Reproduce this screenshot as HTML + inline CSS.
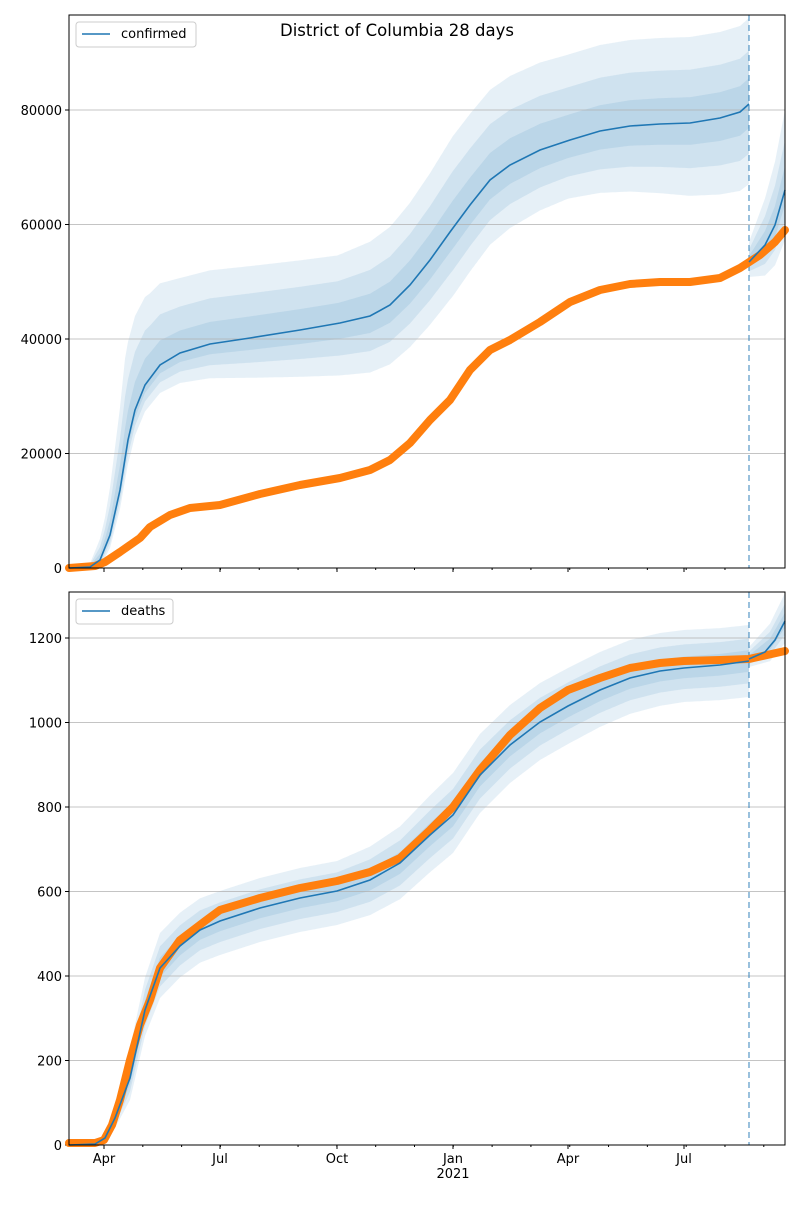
<!DOCTYPE html>
<html><head><meta charset="utf-8"><style>
body{margin:0;background:#fff}
svg text{font-family:"DejaVu Sans","Liberation Sans",sans-serif;font-size:13px;fill:#000}
</style></head><body>
<svg id="s" width="800" height="1200" xmlns="http://www.w3.org/2000/svg">
<rect width="800" height="1200" fill="#fff"/>
<g id="g"></g>
</svg>
<script>
const NS="http://www.w3.org/2000/svg";
const g=document.getElementById('g');
function el(t,a,txt){const e=document.createElementNS(NS,t);for(const k in a)e.setAttribute(k,a[k]);if(txt!==undefined)e.textContent=txt;g.appendChild(e);return e;}
function interp(pts,x){if(x<=pts[0][0])return pts[0][1];for(let i=1;i<pts.length;i++){if(x<=pts[i][0]){const a=pts[i-1],b=pts[i];return a[1]+(b[1]-a[1])*(x-a[0])/(b[0]-a[0]);}}return pts[pts.length-1][1];}
function pl(pts){return pts.map(p=>p[0].toFixed(1)+','+p[1].toFixed(1)).join(' ');}
function band(x0,x1,med,up,lo,clipTop){
 for(const f of [1,0.62,0.3]){
  const a=[],b=[];
  for(let x=x0;x<=x1;x+=1){const m=interp(med,x);a.push([x,Math.max(clipTop,m-interp(up,x)*f)]);b.push([x,m+interp(lo,x)*f]);}
  el('polygon',{points:pl(a.concat(b.reverse())),fill:'#1f77b4','fill-opacity':0.11});
 }
}
function axes(top,bot,yt,labels){
 yt.forEach(([y,l])=>{el('line',{x1:69,x2:785,y1:y,y2:y,stroke:'#b0b0b0','stroke-width':0.8});el('line',{x1:65,x2:69,y1:y,y2:y,stroke:'#000'});el('text',{x:62,y:y+5,'text-anchor':'end'},l);});
 for(let k=-1;k<=17;k++){const x=104+k*30.44*1.275;if(x>=69&&x<=785)el('line',{x1:x,x2:x,y1:bot,y2:bot+2,stroke:'#000'});}
 [[104,'Apr'],[220,'Jul'],[337,'Oct'],[453,'Jan'],[568,'Apr'],[684,'Jul']].forEach(([x,l])=>{el('line',{x1:x,x2:x,y1:bot,y2:bot+4,stroke:'#000'});if(labels){el('text',{x:x,y:bot+18,'text-anchor':'middle'},l);}});
 if(labels)el('text',{x:453,y:bot+33,'text-anchor':'middle'},'2021');
 el('line',{x1:749,x2:749,y1:top,y2:bot,stroke:'#1f77b4','stroke-opacity':0.6,'stroke-width':1.5,'stroke-dasharray':'6,4'});
}
function frame(top,bot){el('rect',{x:69,y:top,width:716,height:bot-top,fill:'none',stroke:'#000','stroke-width':1});}
// ---- TOP ----
const medT=[[69,568],[90,567],[100,560],[110,535],[120,490],[128,440],[135,410],[145,385],[160,365],[180,353],[210,344],[250,338],[300,330],[340,323],[370,316],[390,305],[410,285],[430,260],[450,232],[470,205],[490,180],[510,165],[540,150],[570,140],[600,131],[630,126],[660,124],[690,123],[720,118],[740,112],[749,104]];
const upT=[[88,0],[105,30],[125,100],[150,85],[180,75],[337,68],[400,80],[453,92],[568,86],[749,86]];
const loT=[[88,0],[105,10],[130,25],[180,30],[337,52],[453,68],[568,58],[749,80]];
band(69,749,medT,upT,loT,15);
band(749,785,[[749,262],[765,245],[775,225],[785,190]],[[749,20],[785,80]],[[749,15],[785,50]],15);
axes(15,568,[[568,'0'],[453.5,'20000'],[339,'40000'],[224.5,'60000'],[110,'80000']],false);
const orT=[[69,568],[95,566],[105,562],[120,552],[140,538],[150,527],[170,515],[190,508],[220,505],[260,494],[300,485],[340,478],[370,470],[390,460],[410,443],[430,420],[450,400],[470,370],[490,350],[510,340],[540,322],[570,302],[600,290],[630,284],[660,282],[690,282],[720,278],[740,268],[760,255],[775,242],[785,230]];
el('polyline',{points:pl(orT),fill:'none',stroke:'#ff7f0e','stroke-width':8,'stroke-linecap':'round','stroke-linejoin':'round'});
el('polyline',{points:pl(medT),fill:'none',stroke:'#1f77b4','stroke-width':1.6});
el('polyline',{points:pl([[749,262],[765,245],[775,225],[785,190]]),fill:'none',stroke:'#1f77b4','stroke-width':1.6});
frame(15,568);
el('rect',{x:76,y:22,width:120,height:25,rx:3,fill:'#fff','fill-opacity':0.8,stroke:'#ccc'});
el('line',{x1:82,x2:110,y1:34,y2:34,stroke:'#1f77b4','stroke-width':1.6});
el('text',{x:121,y:38},'confirmed');
el('text',{x:397,y:36,'text-anchor':'middle','style':'font-size:16.5px'},'District of Columbia 28 days');
// ---- BOTTOM ----
const medB=[[69,1145],[95,1144],[105,1138],[115,1118],[130,1078],[145,1010],[160,968],[180,946],[200,930],[220,921],[260,908],[300,898],[337,891],[370,880],[400,863],[430,835],[453,815],[480,775],[510,745],[540,722],[568,706],[600,690],[630,678],[660,671],[684,668],[720,665],[749,661]];
const upB=[[95,0],[110,8],[130,30],[160,35],[220,30],[337,30],[453,42],[568,38],[684,38],[749,36]];
const loB=[[95,0],[110,6],[130,22],[160,30],[220,34],[337,34],[453,38],[568,38],[684,34],[749,36]];
band(69,749,medB,upB,loB,592);
band(749,785,[[749,659],[770,645],[785,621]],[[749,12],[785,28]],[[749,8],[785,22]],592);
axes(592,1145,[[1145,'0'],[1060.5,'200'],[976,'400'],[891.5,'600'],[807,'800'],[722.5,'1000'],[638,'1200']],true);
const orB=[[69,1143],[95,1143],[104,1140],[112,1125],[120,1100],[130,1060],[140,1025],[150,1000],[160,968],[180,940],[205,921],[220,910],[260,898],[300,888],[337,881],[370,872],[400,858],[430,830],[453,807],[480,770],[510,735],[540,708],[568,690],[600,678],[630,668],[660,663],[684,661],[720,660],[749,659],[785,651]];
el('polyline',{points:pl(orB),fill:'none',stroke:'#ff7f0e','stroke-width':8,'stroke-linecap':'round','stroke-linejoin':'round'});
el('polyline',{points:pl(medB),fill:'none',stroke:'#1f77b4','stroke-width':1.6});
el('polyline',{points:pl([[749,659],[765,652],[775,640],[785,621]]),fill:'none',stroke:'#1f77b4','stroke-width':1.6});
frame(592,1145);
el('rect',{x:76,y:599,width:97,height:25,rx:3,fill:'#fff','fill-opacity':0.8,stroke:'#ccc'});
el('line',{x1:82,x2:110,y1:611,y2:611,stroke:'#1f77b4','stroke-width':1.6});
el('text',{x:121,y:615},'deaths');
</script>
</body></html>
